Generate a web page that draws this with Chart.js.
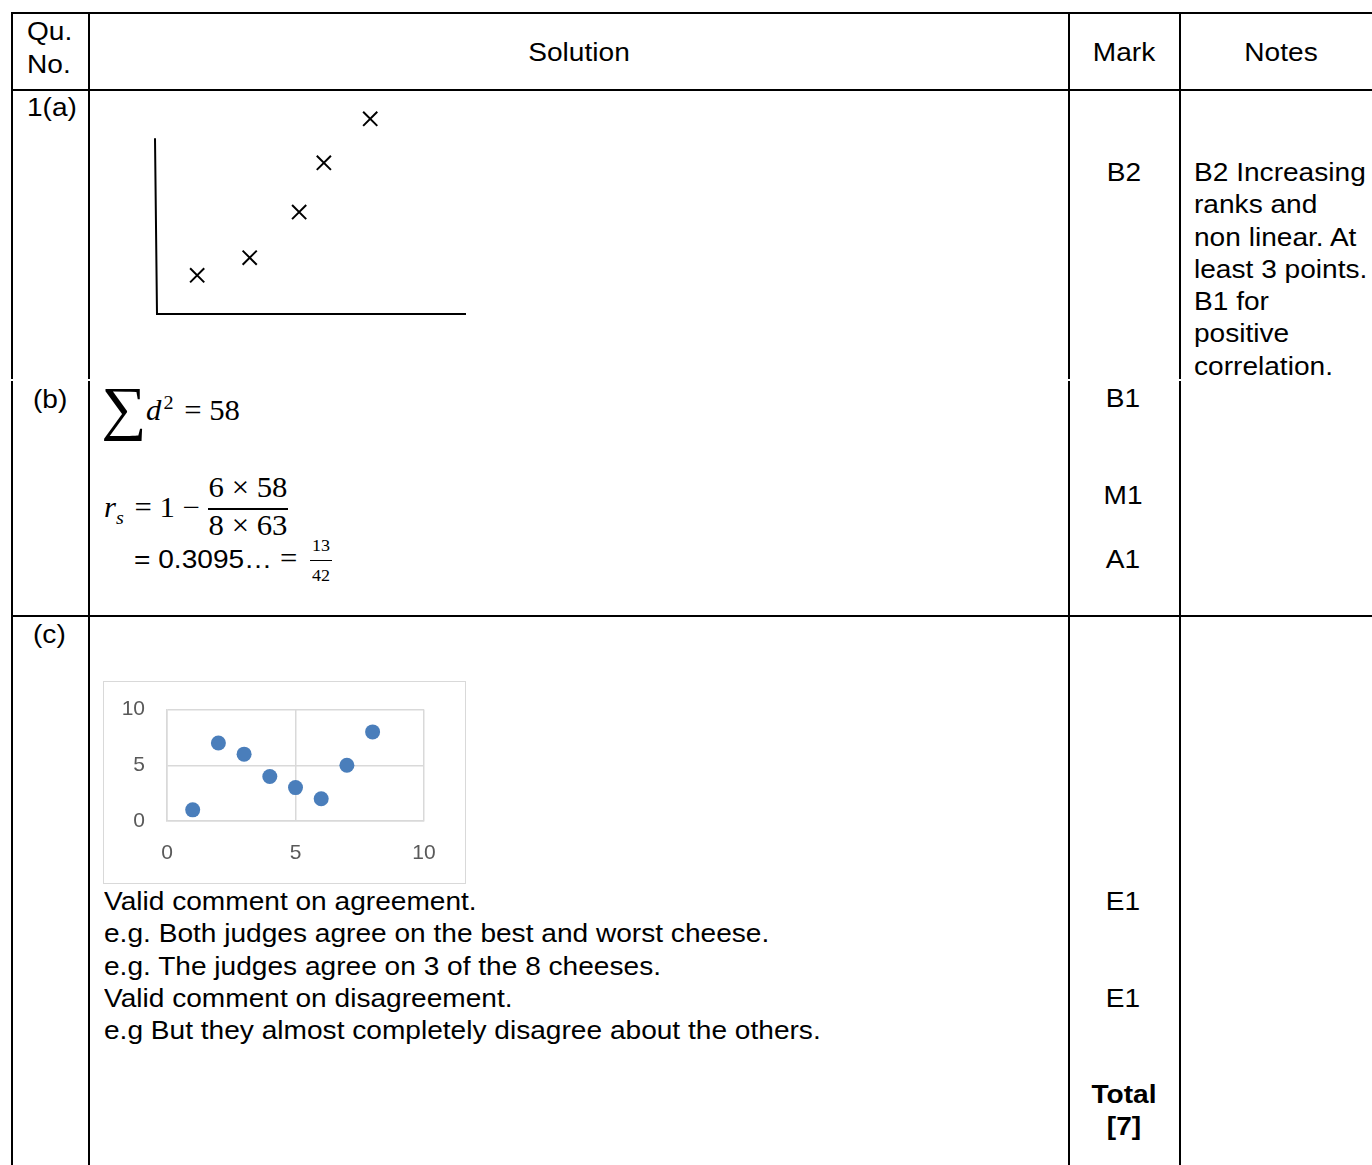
<!DOCTYPE html>
<html>
<head>
<meta charset="utf-8">
<script src="https://cdn.jsdelivr.net/npm/chart.js@4"></script>
<style>
  html,body{margin:0;padding:0;background:#fff;}
  #page{position:relative;width:1372px;height:1165px;overflow:hidden;font-family:"Liberation Sans",Arial,sans-serif;font-size:26.5px;color:#000;}
  .ln{position:absolute;background:#000;}
  .t{position:absolute;white-space:nowrap;line-height:32px;transform-origin:0 50%;transform:scaleX(1.06);}
  .c{transform-origin:50% 50%;transform:translateX(-50%) scaleX(1.06);}
  .m{font-family:"Liberation Serif","DejaVu Serif",serif;transform:scaleX(1.06);}
  .m.c{transform:translateX(-50%) scaleX(1.06);}
  canvas{position:absolute;}
  #box2{position:absolute;left:103px;top:681px;width:361px;height:201px;border:1px solid #d9d9d9;}
</style>
</head>
<body>
<div id="page">
  <!-- table lines -->
  <div class="ln" style="left:11px;top:12px;width:1361px;height:2px"></div>
  <div class="ln" style="left:11px;top:89px;width:1361px;height:2px"></div>
  <div class="ln" style="left:11px;top:615px;width:1361px;height:2px"></div>
  <div class="ln" style="left:11px;top:12px;width:2px;height:367px"></div>
  <div class="ln" style="left:11px;top:381px;width:2px;height:784px"></div>
  <div class="ln" style="left:88px;top:12px;width:2px;height:367px"></div>
  <div class="ln" style="left:88px;top:381px;width:2px;height:784px"></div>
  <div class="ln" style="left:1068px;top:12px;width:2px;height:367px"></div>
  <div class="ln" style="left:1068px;top:381px;width:2px;height:784px"></div>
  <div class="ln" style="left:1179px;top:12px;width:2px;height:367px"></div>
  <div class="ln" style="left:1179px;top:381px;width:2px;height:784px"></div>

  <!-- header -->
  <div class="t" style="left:27px;top:15px">Qu.</div>
  <div class="t" style="left:27px;top:48px">No.</div>
  <div class="t c" style="left:579px;top:36px">Solution</div>
  <div class="t c" style="left:1124px;top:36px">Mark</div>
  <div class="t c" style="left:1281px;top:36px">Notes</div>

  <!-- 1(a) -->
  <div class="t" style="left:27px;top:91px">1(a)</div>
  <div class="t c" style="left:1124px;top:156px">B2</div>
  <div class="t" style="left:1194px;top:156px;line-height:32.3px">B2 Increasing<br>ranks and<br>non linear. At<br>least 3 points.<br>B1 for<br>positive<br>correlation.</div>

  <!-- (b) -->
  <div class="t" style="left:33px;top:383px">(b)</div>
  <div class="t c" style="left:1123px;top:382px">B1</div>
  <div class="t c" style="left:1123px;top:479px">M1</div>
  <div class="t c" style="left:1123px;top:543px">A1</div>

  <div class="t m" style="left:101px;top:364px;font-size:60px;line-height:88px;">&sum;</div>
  <div class="t m" style="left:146px;top:394px;font-size:29px;"><i>d</i><span style="font-size:19px;position:relative;top:-11px;margin-left:2px">2</span><span style="margin-left:10px">= 58</span></div>
  <div class="t m" style="left:104px;top:491px;font-size:29px;"><i>r</i><span style="font-size:19px;font-style:italic;position:relative;top:7px">s</span><span style="margin-left:10px">= 1 &minus;</span></div>
  <div class="t m c" style="left:248px;top:471px;font-size:29px;">6 &times; 58</div>
  <div class="ln" style="left:208px;top:508px;width:80px;height:2px"></div>
  <div class="t m c" style="left:248px;top:509px;font-size:29px;">8 &times; 63</div>
  <div class="t" style="left:134px;top:543px">= 0.3095&hellip;</div>
  <div class="t m" style="left:280px;top:542px;font-size:29px">=</div>
  <div class="t m c" style="left:321px;top:534px;font-size:17px;line-height:24px">13</div>
  <div class="ln" style="left:310px;top:560px;width:22px;height:1px"></div>
  <div class="t m c" style="left:321px;top:564px;font-size:17px;line-height:24px">42</div>

  <!-- (c) -->
  <div class="t" style="left:33px;top:618px">(c)</div>
  <div class="t" style="left:104px;top:885px;line-height:32.3px">Valid comment on agreement.<br>e.g. Both judges agree on the best and worst cheese.<br>e.g. The judges agree on 3 of the 8 cheeses.<br>Valid comment on disagreement.<br>e.g But they almost completely disagree about the others.</div>
  <div class="t c" style="left:1123px;top:885px">E1</div>
  <div class="t c" style="left:1123px;top:982px">E1</div>
  <div class="t c" style="left:1124px;top:1078px;font-weight:bold;line-height:32.3px;text-align:center">Total<br>[7]</div>

  <!-- charts -->
  <canvas id="sketch" width="333" height="235" style="left:145px;top:91px;width:333px;height:235px"></canvas>
  <div id="box2"></div>
  <canvas id="scatter" width="361" height="208" style="left:104px;top:675px;width:361px;height:208px"></canvas>
</div>

<script>
// ---- Data ----
// Part (a) sketch: increasing, non-linear ranks
const sketchX = [1.3, 3.0, 4.6, 5.4, 6.9];
const sketchY = [2.2, 3.2, 5.8, 8.6, 11.1];
// Part (c) scatter of judges' ranks
const judgeA = [1, 2, 3, 4, 5, 6, 7, 8];
const judgeB = [1, 7, 6, 4, 3, 2, 5, 8];
const scatterTicks = [0, 5, 10];

const sketchAxes = {
  id: 'sketchAxes',
  afterDraw(chart) {
    const {ctx, scales: {x, y}} = chart;
    ctx.save();
    ctx.strokeStyle = '#000';
    ctx.lineWidth = 2;
    ctx.beginPath();
    ctx.moveTo(x.getPixelForValue(0) - 2, y.getPixelForValue(10));
    ctx.lineTo(x.getPixelForValue(0), y.getPixelForValue(0));
    ctx.lineTo(x.getPixelForValue(10), y.getPixelForValue(0));
    ctx.stroke();
    ctx.restore();
  }
};

new Chart(document.getElementById('sketch'), {
  type: 'scatter',
  data: {
    datasets: [{
      data: sketchX.map((v, i) => ({x: v, y: sketchY[i]})),
      pointStyle: 'crossRot',
      pointRadius: 10,
      pointHoverRadius: 10,
      borderColor: '#000',
      backgroundColor: '#000',
      borderWidth: 2,
      clip: false
    }]
  },
  options: {
    responsive: false,
    animation: false,
    devicePixelRatio: 1,
    layout: {padding: 12},
    plugins: {legend: {display: false}, tooltip: {enabled: false}},
    scales: {
      x: {type: 'linear', min: 0, max: 10, display: false},
      y: {type: 'linear', min: 0, max: 12, display: false}
    }
  },
  plugins: [sketchAxes]
});

new Chart(document.getElementById('scatter'), {
  type: 'scatter',
  data: {
    datasets: [{
      data: judgeA.map((v, i) => ({x: v, y: judgeB[i]})),
      pointStyle: 'circle',
      pointRadius: 7.5,
      pointHoverRadius: 7.5,
      backgroundColor: '#4a7ebb',
      borderColor: '#4a7ebb',
      borderWidth: 0,
      clip: false
    }]
  },
  options: {
    responsive: false,
    animation: false,
    devicePixelRatio: 1,
    layout: {padding: {top: 0, right: 41, left: 0, bottom: 0}},
    plugins: {legend: {display: false}, tooltip: {enabled: false}},
    scales: {
      x: {
        type: 'linear', min: 0, max: 10,
        afterBuildTicks: s => { s.ticks = scatterTicks.map(v => ({value: v})); },
        afterFit: s => { s.height = 62; },
        grid: {color: '#d9d9d9', drawTicks: false, lineWidth: 1.5},
        border: {color: '#d9d9d9', width: 1.5},
        ticks: {color: '#595959', font: {family: 'Liberation Sans', size: 21}, padding: 20, maxRotation: 0}
      },
      y: {
        type: 'linear', min: 0, max: 10,
        afterBuildTicks: s => { s.ticks = scatterTicks.map(v => ({value: v})); },
        afterFit: s => { s.width = 63; },
        grid: {color: '#d9d9d9', drawTicks: false, lineWidth: 1.5},
        border: {color: '#d9d9d9', width: 1.5},
        ticks: {color: '#595959', font: {family: 'Liberation Sans', size: 21}, padding: 22}
      }
    }
  }
});
</script>
</body>
</html>
